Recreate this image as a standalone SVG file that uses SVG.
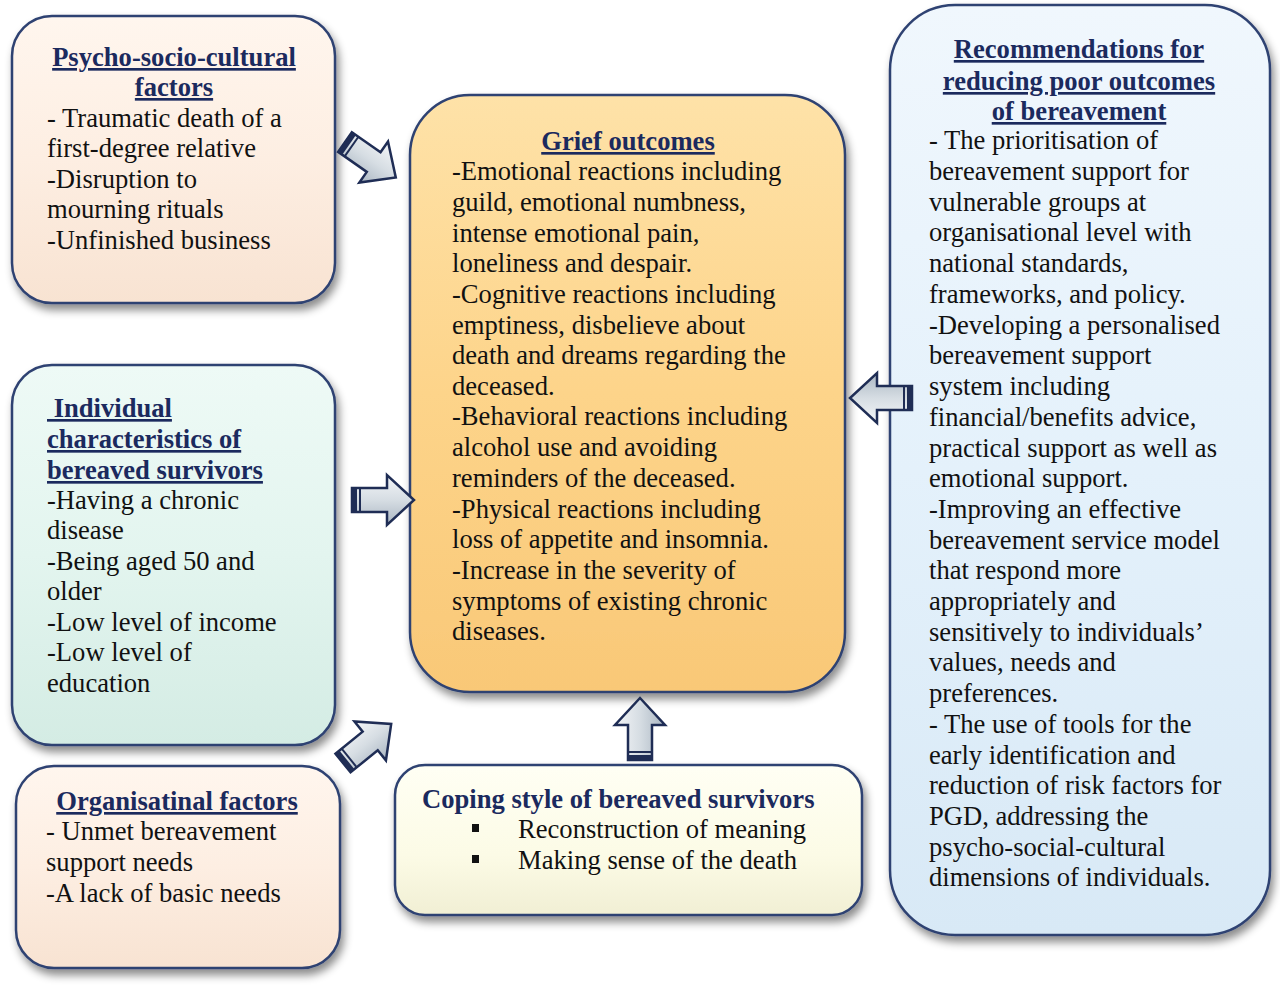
<svg xmlns="http://www.w3.org/2000/svg" width="1280" height="985" viewBox="0 0 1280 985">
<defs>
<filter id="sh" x="-10%" y="-10%" width="125%" height="125%">
<feDropShadow dx="3" dy="6" stdDeviation="4" flood-color="#000" flood-opacity="0.45"/>
</filter>
<linearGradient id="gPeach" x1="0" y1="0" x2="0" y2="1"><stop offset="0" stop-color="#fff6ee"/><stop offset="0.5" stop-color="#fdeee2"/><stop offset="1" stop-color="#f8e3d2"/></linearGradient>
<linearGradient id="gMint" x1="0" y1="0" x2="0" y2="1"><stop offset="0" stop-color="#eefaf6"/><stop offset="0.5" stop-color="#e3f5ef"/><stop offset="1" stop-color="#d4ece4"/></linearGradient>
<linearGradient id="gOrange" x1="0" y1="0" x2="0" y2="1"><stop offset="0" stop-color="#fee2a8"/><stop offset="0.5" stop-color="#fdd48a"/><stop offset="1" stop-color="#f9c877"/></linearGradient>
<linearGradient id="gYellow" x1="0" y1="0" x2="0" y2="1"><stop offset="0" stop-color="#fffff4"/><stop offset="0.6" stop-color="#fcfbe6"/><stop offset="1" stop-color="#f1efd4"/></linearGradient>
<linearGradient id="gBlue" x1="0" y1="0" x2="0" y2="1"><stop offset="0" stop-color="#f0f7fd"/><stop offset="0.5" stop-color="#e4f1fb"/><stop offset="1" stop-color="#d8e9f6"/></linearGradient>
<linearGradient id="gArrow" x1="0" y1="0" x2="0" y2="1"><stop offset="0" stop-color="#f4f6f8"/><stop offset="0.5" stop-color="#d6dde3"/><stop offset="1" stop-color="#aab6c2"/></linearGradient>
<g id="arr">
<path d="M0,-12 L35,-12 L35,-25 L62,0 L35,25 L35,12 L0,12 Z" fill="url(#gArrow)" stroke="#1f2d55" stroke-width="2.5" stroke-linejoin="miter"/>
<rect x="0" y="-12" width="5" height="24" fill="#1f2d55"/>
<rect x="7" y="-12" width="2" height="24" fill="#1f2d55"/>
</g>
</defs>
<style>
.box{stroke:#2f4272;stroke-width:2.5;filter:url(#sh)}
text{font-family:"Liberation Serif","Times New Roman",serif;font-size:26.6px;fill:#111}
.t{font-weight:bold;fill:#1b2a5e;text-decoration:underline}
.tn{font-weight:bold;fill:#1b2a5e}
.c{text-anchor:middle}
</style>
<rect width="1280" height="985" fill="#fff"/>

<g id="psycho">
<rect class="box" x="12" y="16" width="323" height="287" rx="40" fill="url(#gPeach)"/>
<text class="t c" x="174" y="66">Psycho-socio-cultural</text>
<text class="t c" x="174" y="96">factors</text>
<text x="47" y="127">- Traumatic death of a</text>
<text x="47" y="157">first-degree relative</text>
<text x="47" y="188">-Disruption to</text>
<text x="47" y="218">mourning rituals</text>
<text x="47" y="249">-Unfinished business</text>
</g>

<g id="individual">
<rect class="box" x="12" y="365" width="323" height="380" rx="40" fill="url(#gMint)"/>
<text class="t" x="47" y="417" xml:space="preserve"> Individual</text>
<text class="t" x="47" y="448">characteristics of</text>
<text class="t" x="47" y="479">bereaved survivors</text>
<text x="47" y="509">-Having a chronic</text>
<text x="47" y="539">disease</text>
<text x="47" y="570">-Being aged 50 and</text>
<text x="47" y="600">older</text>
<text x="47" y="631">-Low level of income</text>
<text x="47" y="661">-Low level of</text>
<text x="47" y="692">education</text>
</g>

<g id="organisational">
<rect class="box" x="16" y="766" width="324" height="202" rx="38" fill="url(#gPeach)"/>
<text class="t c" x="177" y="810">Organisatinal factors</text>
<text x="46" y="840">- Unmet bereavement</text>
<text x="46" y="871">support needs</text>
<text x="46" y="902">-A lack of basic needs</text>
</g>

<g id="grief">
<rect class="box" x="410" y="95" width="435" height="597" rx="60" fill="url(#gOrange)"/>
<text class="t c" x="628" y="150">Grief outcomes</text>
<text x="452" y="180">-Emotional reactions including</text>
<text x="452" y="211">guild, emotional numbness,</text>
<text x="452" y="242">intense emotional pain,</text>
<text x="452" y="272">loneliness and despair.</text>
<text x="452" y="303">-Cognitive reactions including</text>
<text x="452" y="334">emptiness, disbelieve about</text>
<text x="452" y="364">death and dreams regarding the</text>
<text x="452" y="395">deceased.</text>
<text x="452" y="425">-Behavioral reactions including</text>
<text x="452" y="456">alcohol use and avoiding</text>
<text x="452" y="487">reminders of the deceased.</text>
<text x="452" y="518">-Physical reactions including</text>
<text x="452" y="548">loss of appetite and insomnia.</text>
<text x="452" y="579">-Increase in the severity of</text>
<text x="452" y="610">symptoms of existing chronic</text>
<text x="452" y="640">diseases.</text>
</g>

<g id="coping">
<rect class="box" x="395" y="765" width="467" height="150" rx="30" fill="url(#gYellow)"/>
<text class="tn" x="422" y="808">Coping style of bereaved survivors</text>
<rect x="472" y="824" width="7" height="8" fill="#111"/>
<text x="518" y="838">Reconstruction of meaning</text>
<rect x="472" y="855" width="7" height="8" fill="#111"/>
<text x="518" y="869">Making sense of the death</text>
</g>

<g id="recommendations">
<rect class="box" x="890" y="5" width="380" height="930" rx="65" fill="url(#gBlue)"/>
<text class="t c" x="1079" y="58">Recommendations for</text>
<text class="t c" x="1079" y="90">reducing poor outcomes</text>
<text class="t c" x="1079" y="120">of bereavement</text>
<text x="929" y="149">- The prioritisation of</text>
<text x="929" y="180">bereavement support for</text>
<text x="929" y="211">vulnerable groups at</text>
<text x="929" y="241">organisational level with</text>
<text x="929" y="272">national standards,</text>
<text x="929" y="303">frameworks, and policy.</text>
<text x="929" y="334">-Developing a personalised</text>
<text x="929" y="364">bereavement support</text>
<text x="929" y="395">system including</text>
<text x="929" y="426">financial/benefits advice,</text>
<text x="929" y="457">practical support as well as</text>
<text x="929" y="487">emotional support.</text>
<text x="929" y="518">-Improving an effective</text>
<text x="929" y="549">bereavement service model</text>
<text x="929" y="579">that respond more</text>
<text x="929" y="610">appropriately and</text>
<text x="929" y="641">sensitively to individuals’</text>
<text x="929" y="671">values, needs and</text>
<text x="929" y="702">preferences.</text>
<text x="929" y="733">- The use of tools for the</text>
<text x="929" y="764">early identification and</text>
<text x="929" y="794">reduction of risk factors for</text>
<text x="929" y="825">PGD, addressing the</text>
<text x="929" y="856">psycho-social-cultural</text>
<text x="929" y="886">dimensions of individuals.</text>
</g>

<g id="connectors">
<use href="#arr" transform="translate(345,142) rotate(35)"/>
<use href="#arr" transform="translate(352,500)"/>
<use href="#arr" transform="translate(343,763) rotate(-39)"/>
<use href="#arr" transform="translate(640,760) rotate(-90)"/>
<use href="#arr" transform="translate(912,398) rotate(180)"/>
</g>
</svg>
